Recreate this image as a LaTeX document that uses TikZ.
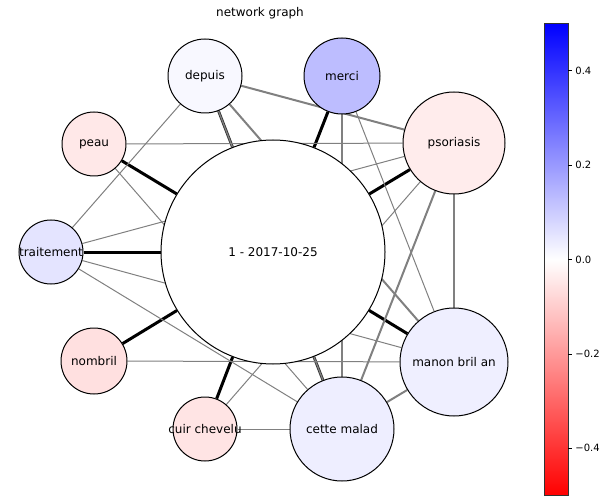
\documentclass[tikz,border=0pt]{standalone}
\usepackage{fontspec}
\setmainfont{DejaVu Sans}
\usetikzlibrary{
  backgrounds,  % Predefined layer named "background"
}
\definecolor{depuiscol}{RGB}{248,248,255}
\definecolor{mercicol}{RGB}{189,189,255}
\definecolor{psoriasiscol}{RGB}{255,236,236}
\definecolor{peaucol}{RGB}{255,232,232}
\definecolor{traitementcol}{RGB}{228,228,255}
\definecolor{nombrilcol}{RGB}{255,224,224}
\definecolor{cuircol}{RGB}{255,228,228}
\definecolor{cettecol}{RGB}{238,238,255}
\definecolor{manoncol}{RGB}{239,239,255}
\def\mypx{0.75pt}
\tikzset{
  x=\mypx,
  y=-\mypx,
  my font/.style={
    font=\fontsize{9}{10}\selectfont
  },
  % Circle of a given radius (in px), its text set as a label
  word/.style={
    circle,
    draw,
    line width=0.75pt,
    inner sep=0pt,
    minimum size=#1*1.5pt
  },
  every label/.style={
    my font,
    inner sep=0pt
  },
  strong/.style={
    draw=black,
    line width=2.25pt
  },
  twin/.style={
    draw=black!80,
    double=gray,
    double distance=0.9pt,
    line width=0.6pt
  },
  medium/.style={
    draw=gray,
    line width=1.5pt
  },
  weak/.style={
    draw=gray,
    line width=0.75pt
  },
  tick label/.style={
    font=\fontsize{7.5}{9}\selectfont,
    anchor=west,
    inner sep=0pt
  }
}

\begin{document}
\begin{tikzpicture}
\useasboundingbox (0,0) rectangle (606,502);
\node[my font] (title) at (260,13) {network graph};
\node[word=112, fill=white, label=center:{1 - 2017-10-25}] (doc) at (273,252) {};
\node[word=37, fill=depuiscol, label=center:depuis] (depuis) at (205,76) {};
\node[word=38, fill=mercicol, label=center:merci] (merci) at (342,76) {};
\node[word=51, fill=psoriasiscol, label=center:psoriasis] (psoriasis) at (454,143) {};
\node[word=32, fill=peaucol, label=center:peau] (peau) at (94,144) {};
\node[word=32, fill=traitementcol, label=center:traitement] (traitement) at (51,252) {};
\node[word=33, fill=nombrilcol, label=center:nombril] (nombril) at (94,361) {};
\node[word=32, fill=cuircol, label=center:cuir chevelu] (cuir) at (205,429) {};
\node[word=52, fill=cettecol, label=center:cette malad] (cette) at (342,429) {};
\node[word=54, fill=manoncol, label=center:manon bril an] (manon) at (454,362) {};
\begin{scope}[on background layer]
\path (doc) edge[strong] (peau)
            edge[strong] (traitement)
            edge[strong] (nombril)
            edge[strong] (cuir)
            edge[strong] (manon)
            edge[strong] (psoriasis)
            edge[strong] (merci)
            edge[twin]   (depuis)
            edge[twin]   (cette);
\path (depuis) edge[medium] (psoriasis)
               edge[medium] (manon)
               edge[weak]   (traitement);
\path (merci) edge[medium] (cette)
              edge[weak]   (manon);
\path (psoriasis) edge[medium] (manon)
                  edge[medium] (cette)
                  edge[weak]   (peau)
                  edge[weak]   (traitement)
                  edge[weak]   (cuir);
\path (cette) edge[medium] (manon)
              edge[weak]   (peau)
              edge[weak]   (traitement)
              edge[weak]   (cuir);
\path (manon) edge[weak] (traitement)
              edge[weak] (nombril);
\end{scope}
% Colour bar
\shade[top color=blue, bottom color=red, middle color=white]
  (544,23.5) rectangle (568,495.5);
\draw[line width=0.6pt, black!80] (544,23.5) rectangle (568,495.5);
\foreach \v/\y in {0.4/70.7, 0.2/165.1, 0.0/259.5, −0.2/353.9, −0.4/448.3}
  \draw[line width=0.6pt] (568,\y) -- (571.5,\y) node[tick label] at (575,\y) {\v};
\end{tikzpicture}
\end{document}
